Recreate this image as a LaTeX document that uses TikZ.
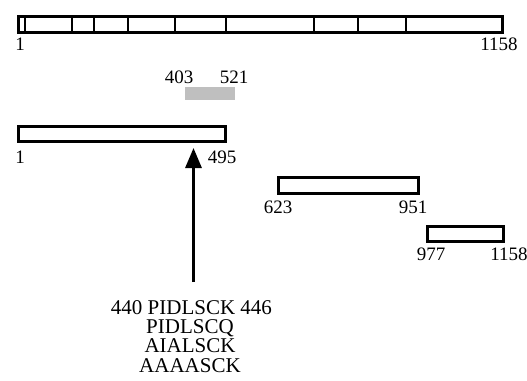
\documentclass[tikz,border=0pt]{standalone}
\usepackage{fontspec}
\setmainfont{Liberation Serif}
\usetikzlibrary{arrows.meta}
\begin{document}
\begin{tikzpicture}[x=1pt,y=-1pt,
  box/.style={draw=black,line width=3pt,fill=white,inner sep=0pt,anchor=north west},
  num/.style={font=\fontsize{19}{19}\selectfont,anchor=base,inner sep=0pt},
  seq/.style={font=\fontsize{21}{21}\selectfont,anchor=base,inner sep=0pt},
  divider/.style={line width=2.6pt},
  thin divider/.style={line width=1.2pt},
  shade/.style={fill=gray!50,draw=none,inner sep=0pt,anchor=north west}]
\useasboundingbox (0,0) rectangle (527,380);
% full-length protein bar
\node[box,minimum width=484pt,minimum height=16pt] (full) at (17,15) {};
\foreach \x in {72,94,128,175,226,314,358,406}
  \draw[divider] (\x,15) -- (\x,31);
\draw[thin divider] (25,15) -- (25,31);
\node[num] (f1) at (20,50) {1};
\node[num] (f2) at (499,50) {1158};
% shaded region
\node[shade,minimum width=50pt,minimum height=13pt] (reg) at (185,87) {};
\node[num] (r1) at (179,83) {403};
\node[num] (r2) at (234,83) {521};
% fragment 1
\node[box,minimum width=207pt,minimum height=15pt] (b1) at (17,125) {};
\node[num] (b1a) at (20,163) {1};
\node[num] (b1b) at (222,163) {495};
% fragment 2
\node[box,minimum width=140pt,minimum height=16pt] (b2) at (277,176) {};
\node[num] (b2a) at (278,213) {623};
\node[num] (b2b) at (413,213) {951};
% fragment 3
\node[box,minimum width=76pt,minimum height=15pt] (b3) at (426,225) {};
\node[num] (b3a) at (431,260) {977};
\node[num] (b3b) at (509,260) {1158};
% sequences
\node[seq] (s1) at (191.5,314) {440 PIDLSCK 446};
\node[seq] (s2) at (190,333) {PIDLSCQ};
\node[seq] (s3) at (190,352.5) {AIALSCK};
\node[seq] (s4) at (190,372) {AAAASCK};
% arrow
\coordinate (tail) at (193.5,282);
\coordinate (tip) at (193.5,148);
\draw[line width=3pt,-{Triangle[length=20pt,width=16pt]}] (tail) -- (tip);
\end{tikzpicture}
\end{document}
